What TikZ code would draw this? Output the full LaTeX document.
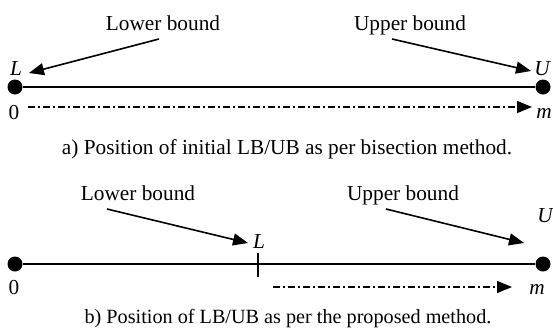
\documentclass[tikz,border=0pt]{standalone}
\usepackage{fontspec}
\setmainfont{Liberation Serif}
\usetikzlibrary{arrows.meta}
\begin{document}
\begin{tikzpicture}[x=1pt,y=-1pt,
  txt/.style={inner sep=0pt,anchor=base,font=\fontsize{21.3}{25}\selectfont},
  captxt/.style={inner sep=0pt,anchor=base,font=\fontsize{20.2}{24}\selectfont},
  dotnode/.style={circle,fill=black,minimum size=15pt,inner sep=0pt},
  axis/.style={line width=1.6pt},
  pointer/.style={line width=1.6pt,-{Triangle[length=15pt,width=12pt]}},
  dashdot/.style={line width=1.5pt,dash pattern=on 7pt off 3pt on 2pt off 3pt,-{Triangle[length=15pt,width=12pt]}}]
\useasboundingbox (0,0) rectangle (553,333);
% ---- panel a ----
\node[dotnode] (a0) at (15,87) {};
\node[dotnode] (am) at (543,87) {};
\draw[axis] (a0) -- (am);
\node[txt] (alb) at (163,30) {Lower bound};
\node[txt] (aub) at (410,30) {Upper bound};
\node[txt] (aL) at (16,75) {\itshape L};
\node[txt] (aU) at (542,75) {\itshape U};
\node[txt] (azero) at (14,119) {0};
\node[txt] (am2) at (544,118) {\itshape m};
\coordinate (alb1) at (159,39);
\coordinate (alb2) at (29,73);
\coordinate (aub1) at (392,39);
\coordinate (aub2) at (531,71);
\draw[pointer] (alb1) -- (alb2);
\draw[pointer] (aub1) -- (aub2);
\coordinate (ad1) at (28,107);
\coordinate (ad2) at (532,107);
\draw[dashdot] (ad1) -- (ad2);
\node[txt] (acap) at (287,154) {a) Position of initial LB/UB as per bisection method.};
% ---- panel b ----
\node[dotnode] (b0) at (15,264) {};
\node[dotnode] (bm) at (543,264) {};
\draw[axis] (b0) -- (bm);
\coordinate (btk1) at (258,253);
\coordinate (btk2) at (258,277);
\draw[axis] (btk1) -- (btk2);
\node[txt] (blb) at (138,200) {Lower bound};
\node[txt] (bub) at (403,200) {Upper bound};
\node[txt] (bL) at (259,248) {\itshape L};
\node[txt] (bU) at (545,222) {\itshape U};
\node[txt] (bzero) at (14,294) {0};
\node[txt] (bm2) at (537,294) {\itshape m};
\coordinate (blb1) at (107,209);
\coordinate (blb2) at (248,243);
\coordinate (bub1) at (386,209);
\coordinate (bub2) at (524,243);
\draw[pointer] (blb1) -- (blb2);
\draw[pointer] (bub1) -- (bub2);
\coordinate (bd1) at (273,287);
\coordinate (bd2) at (512,287);
\draw[dashdot] (bd1) -- (bd2);
\node[captxt] (bcap) at (288,323) {b) Position of LB/UB as per the proposed method.};
\end{tikzpicture}
\end{document}
